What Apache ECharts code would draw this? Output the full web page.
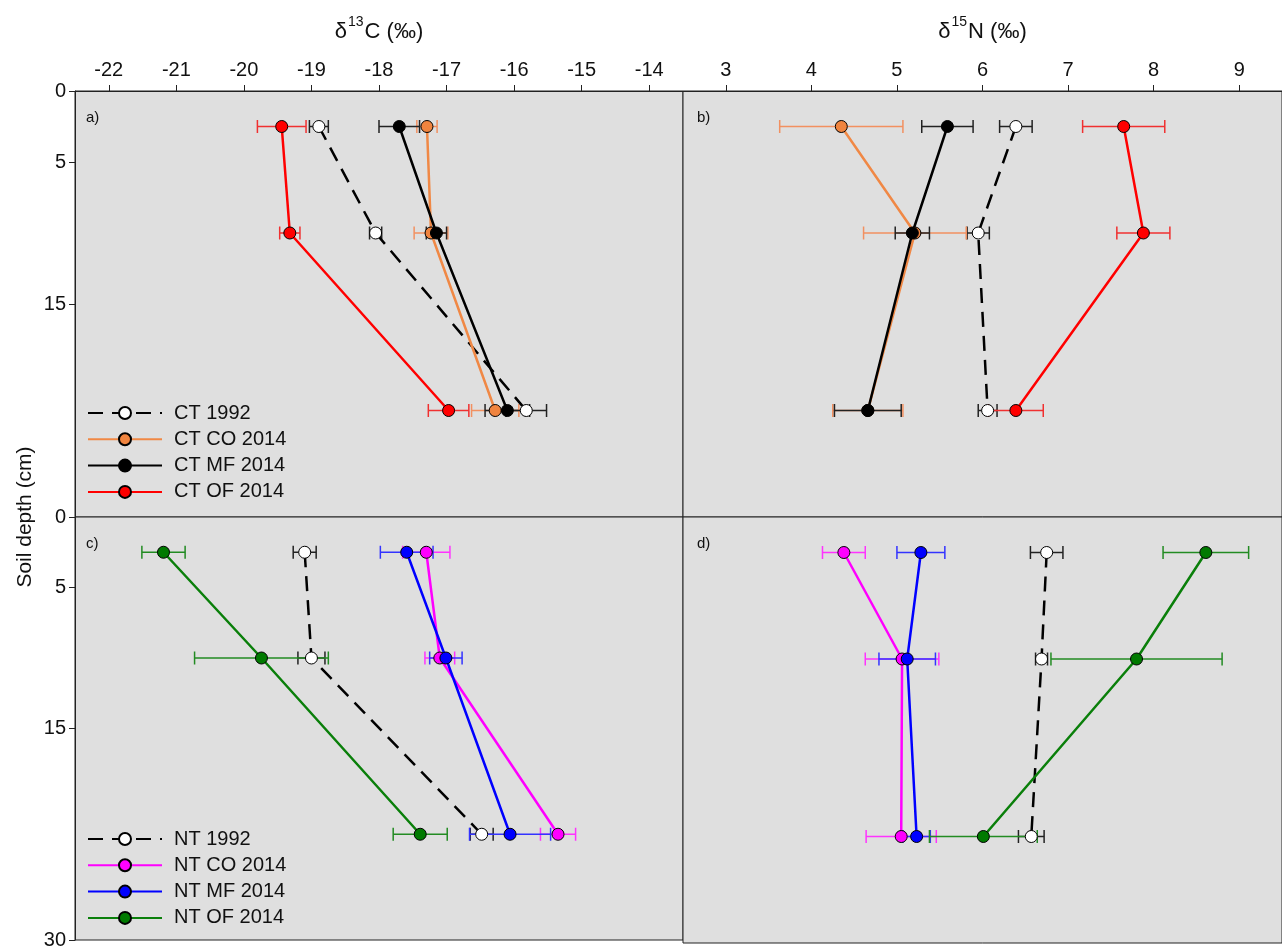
<!DOCTYPE html>
<html>
<head>
<meta charset="utf-8">
<script src="https://cdn.jsdelivr.net/npm/echarts@6/dist/echarts.min.js"></script>
<style>html,body{margin:0;padding:0;background:#fff}#c{width:1282px;height:950px}</style>
</head>
<body>
<div id="c"></div>
<script>
// ---- data ----
const depths = [2.5, 10, 22.5];
const xTicksC = [-22, -21, -20, -19, -18, -17, -16, -15, -14];
const xTicksN = [3, 4, 5, 6, 7, 8, 9];
const yTicks = [0, 5, 15, 30];
const yLabelsTop = [0, 5, 15];
const yLabelsBottom = [0, 5, 15, 30];

const namesCT = ['CT 1992', 'CT CO 2014', 'CT MF 2014', 'CT OF 2014'];
const namesNT = ['NT 1992', 'NT CO 2014', 'NT MF 2014', 'NT OF 2014'];

// panel a: d13C, CT
const ct1992_C = [-18.89, -18.05, -15.82], ct1992_C_err = [0.14, 0.09, 0.30];
const ctCO_C = [-17.29, -17.23, -16.28], ctCO_C_err = [0.15, 0.25, 0.35];
const ctMF_C = [-17.70, -17.15, -16.10], ctMF_C_err = [0.30, 0.15, 0.33];
const ctOF_C = [-19.44, -19.32, -16.97], ctOF_C_err = [0.36, 0.15, 0.30];
// panel b: d15N, CT
const ct1992_N = [6.39, 5.95, 6.06], ct1992_N_err = [0.19, 0.13, 0.11];
const ctCO_N = [4.35, 5.21, 4.66], ctCO_N_err = [0.72, 0.60, 0.41];
const ctMF_N = [5.59, 5.18, 4.66], ctMF_N_err = [0.30, 0.20, 0.39];
const ctOF_N = [7.65, 7.88, 6.39], ctOF_N_err = [0.48, 0.31, 0.32];
// panel c: d13C, NT
const nt1992_C = [-19.10, -19.00, -16.48], nt1992_C_err = [0.17, 0.20, 0.17];
const ntCO_C = [-17.30, -17.10, -15.35], ntCO_C_err = [0.35, 0.22, 0.26];
const ntMF_C = [-17.59, -17.01, -16.06], ntMF_C_err = [0.39, 0.24, 0.60];
const ntOF_C = [-21.19, -19.74, -17.39], ntOF_C_err = [0.32, 0.99, 0.40];
// panel d: d15N, NT
const nt1992_N = [6.75, 6.69, 6.57], nt1992_N_err = [0.19, 0.07, 0.15];
const ntCO_N = [4.38, 5.06, 5.05], ntCO_N_err = [0.25, 0.43, 0.41];
const ntMF_N = [5.28, 5.12, 5.23], ntMF_N_err = [0.28, 0.33, 0.16];
const ntOF_N = [8.61, 7.80, 6.01], ntOF_N_err = [0.50, 1.00, 0.63];

// ---- styles ----
const FONT = '"Liberation Sans", Arial, sans-serif';
const BG = '#dfdfdf';
const COL = {
  y1992: {line: '#000', fill: '#fff', err: '#222'},
  CO: {line: '#F08845', fill: '#F0843F', err: '#F29060'},
  MF: {line: '#000', fill: '#000', err: '#222'},
  OF: {line: '#FF0000', fill: '#FF0000', err: '#F03030'},
  NCO: {line: '#FF00FF', fill: '#FF00FF', err: '#FF33FF'},
  NMF: {line: '#0000FF', fill: '#0000FF', err: '#3333FF'},
  NOF: {line: '#0A7F0A', fill: '#007A00', err: '#228B22'}
};

function errSeries(xs, errs, g, color) {
  return {
    type: 'custom', xAxisIndex: g, yAxisIndex: g, silent: true, z: 2,
    data: xs.map((v, i) => [v - errs[i], v + errs[i], depths[i]]),
    encode: {x: [0, 1], y: 2},
    renderItem: function (params, api) {
      const a = api.coord([api.value(0), api.value(2)]);
      const b = api.coord([api.value(1), api.value(2)]);
      const h = 6.5;
      const st = {stroke: color, lineWidth: 1.5};
      return {type: 'group', children: [
        {type: 'line', shape: {x1: a[0], y1: a[1], x2: b[0], y2: b[1]}, style: st},
        {type: 'line', shape: {x1: a[0], y1: a[1] - h, x2: a[0], y2: a[1] + h}, style: st},
        {type: 'line', shape: {x1: b[0], y1: b[1] - h, x2: b[0], y2: b[1] + h}, style: st}
      ]};
    }
  };
}
function lineSeries(name, xs, g, c, dashed) {
  return {
    type: 'line', name: name, xAxisIndex: g, yAxisIndex: g, z: 3,
    data: xs.map((v, i) => [v, depths[i]]),
    symbol: 'circle', symbolSize: 12, showSymbol: true,
    lineStyle: {color: c.line, width: 2.5, type: dashed ? [15, 9] : 'solid'},
    itemStyle: {color: c.fill, borderColor: '#000', borderWidth: 1},
    emphasis: {disabled: true}
  };
}
function panel(g, names, sets) {
  const out = [];
  sets.forEach((s, k) => {
    out.push(errSeries(s[0], s[1], g, s[2].err));
    out.push(lineSeries(names[k], s[0], g, s[2], k === 0));
  });
  return out;
}

const series = [].concat(
  panel(0, namesCT, [[ct1992_C, ct1992_C_err, COL.y1992], [ctCO_C, ctCO_C_err, COL.CO], [ctMF_C, ctMF_C_err, COL.MF], [ctOF_C, ctOF_C_err, COL.OF]]),
  panel(1, namesCT, [[ct1992_N, ct1992_N_err, COL.y1992], [ctCO_N, ctCO_N_err, COL.CO], [ctMF_N, ctMF_N_err, COL.MF], [ctOF_N, ctOF_N_err, COL.OF]]),
  panel(2, namesNT, [[nt1992_C, nt1992_C_err, COL.y1992], [ntCO_C, ntCO_C_err, COL.NCO], [ntMF_C, ntMF_C_err, COL.NMF], [ntOF_C, ntOF_C_err, COL.NOF]]),
  panel(3, namesNT, [[nt1992_N, nt1992_N_err, COL.y1992], [ntCO_N, ntCO_N_err, COL.NCO], [ntMF_N, ntMF_N_err, COL.NMF], [ntOF_N, ntOF_N_err, COL.NOF]])
);

const gridBase = {show: true, backgroundColor: BG, borderColor: '#222', borderWidth: 1};
const grids = [
  Object.assign({left: 75, top: 91, width: 608, height: 426}, gridBase),
  Object.assign({left: 683, top: 91, width: 610, height: 426}, gridBase),
  Object.assign({left: 75, top: 517, width: 608, height: 426}, gridBase),
  Object.assign({left: 683, top: 517, width: 610, height: 426}, gridBase)
];

const titleRich = {
  a: {fontSize: 22, fontFamily: FONT, color: '#111', lineHeight: 28, verticalAlign: 'bottom'},
  s: {fontSize: 14, fontFamily: FONT, color: '#111', lineHeight: 14, verticalAlign: 'top', padding: [0, 1, 0, 1]}
};
function xAxisTop(g, min, max, ticks, titleText) {
  return {
    type: 'value', gridIndex: g, position: 'top', min: min, max: max,
    name: titleText, nameLocation: 'middle', nameGap: 48,
    nameTextStyle: {rich: titleRich},
    axisLine: {show: true, lineStyle: {color: '#222', width: 1}},
    axisTick: {show: true, inside: false, length: 6, customValues: ticks, lineStyle: {color: '#222'}},
    axisLabel: {show: true, margin: 11, customValues: ticks, fontSize: 20, fontFamily: FONT, color: '#111'},
    splitLine: {show: false}
  };
}
function xAxisHidden(g, min, max) {
  return {type: 'value', gridIndex: g, position: 'top', min: min, max: max,
    axisLine: {show: false}, axisTick: {show: false}, axisLabel: {show: false}, splitLine: {show: false}};
}
function yAxisLeft(g, labels) {
  return {
    type: 'value', gridIndex: g, min: 0, max: 30, inverse: true,
    axisLine: {show: true, lineStyle: {color: '#222', width: 1}},
    axisTick: {show: true, inside: false, length: 6, customValues: yTicks, lineStyle: {color: '#222'}},
    axisLabel: {show: true, margin: 9, customValues: labels, fontSize: 20, fontFamily: FONT, color: '#111'},
    splitLine: {show: false}
  };
}
function yAxisHidden(g) {
  return {type: 'value', gridIndex: g, min: 0, max: 30, inverse: true,
    axisLine: {show: false}, axisTick: {show: false}, axisLabel: {show: false}, splitLine: {show: false}};
}

const legendBase = {
  orient: 'vertical', left: 87, itemWidth: 74, itemHeight: 15, itemGap: 6.3, padding: 0,
  textStyle: {fontSize: 20, fontFamily: FONT, color: '#111', padding: [0, 0, 0, 7]},
  selectedMode: false
};

const panelLabel = (txt, x, y) => ({type: 'text', left: x, top: y, silent: true,
  style: {text: txt, fontSize: 15, fontFamily: FONT, fill: '#111'}});

const chart = echarts.init(document.getElementById('c'), null, {renderer: 'canvas'});
chart.setOption({
  animation: false,
  backgroundColor: '#fff',
  grid: grids,
  xAxis: [
    xAxisTop(0, -22.5, -13.5, xTicksC, '{a|δ}{s|13}{a|C (‰)}'),
    xAxisTop(1, 2.5, 9.5, xTicksN, '{a|δ}{s|15}{a|N (‰)}'),
    xAxisHidden(2, -22.5, -13.5),
    xAxisHidden(3, 2.5, 9.5)
  ],
  yAxis: [yAxisLeft(0, yLabelsTop), yAxisHidden(1), yAxisLeft(2, yLabelsBottom), yAxisHidden(3)],
  legend: [
    Object.assign({top: 403, data: namesCT}, legendBase),
    Object.assign({top: 829, data: namesNT}, legendBase)
  ],
  graphic: [
    panelLabel('a)', 86, 110),
    panelLabel('b)', 697, 110),
    panelLabel('c)', 86, 536),
    panelLabel('d)', 697, 536),
    {type: 'text', x: 25, y: 517, rotation: Math.PI / 2, silent: true,
      style: {text: 'Soil depth (cm)', fontSize: 21, fontFamily: FONT, fill: '#111', align: 'center', verticalAlign: 'middle'}}
  ],
  series: series
});
</script>
</body>
</html>
